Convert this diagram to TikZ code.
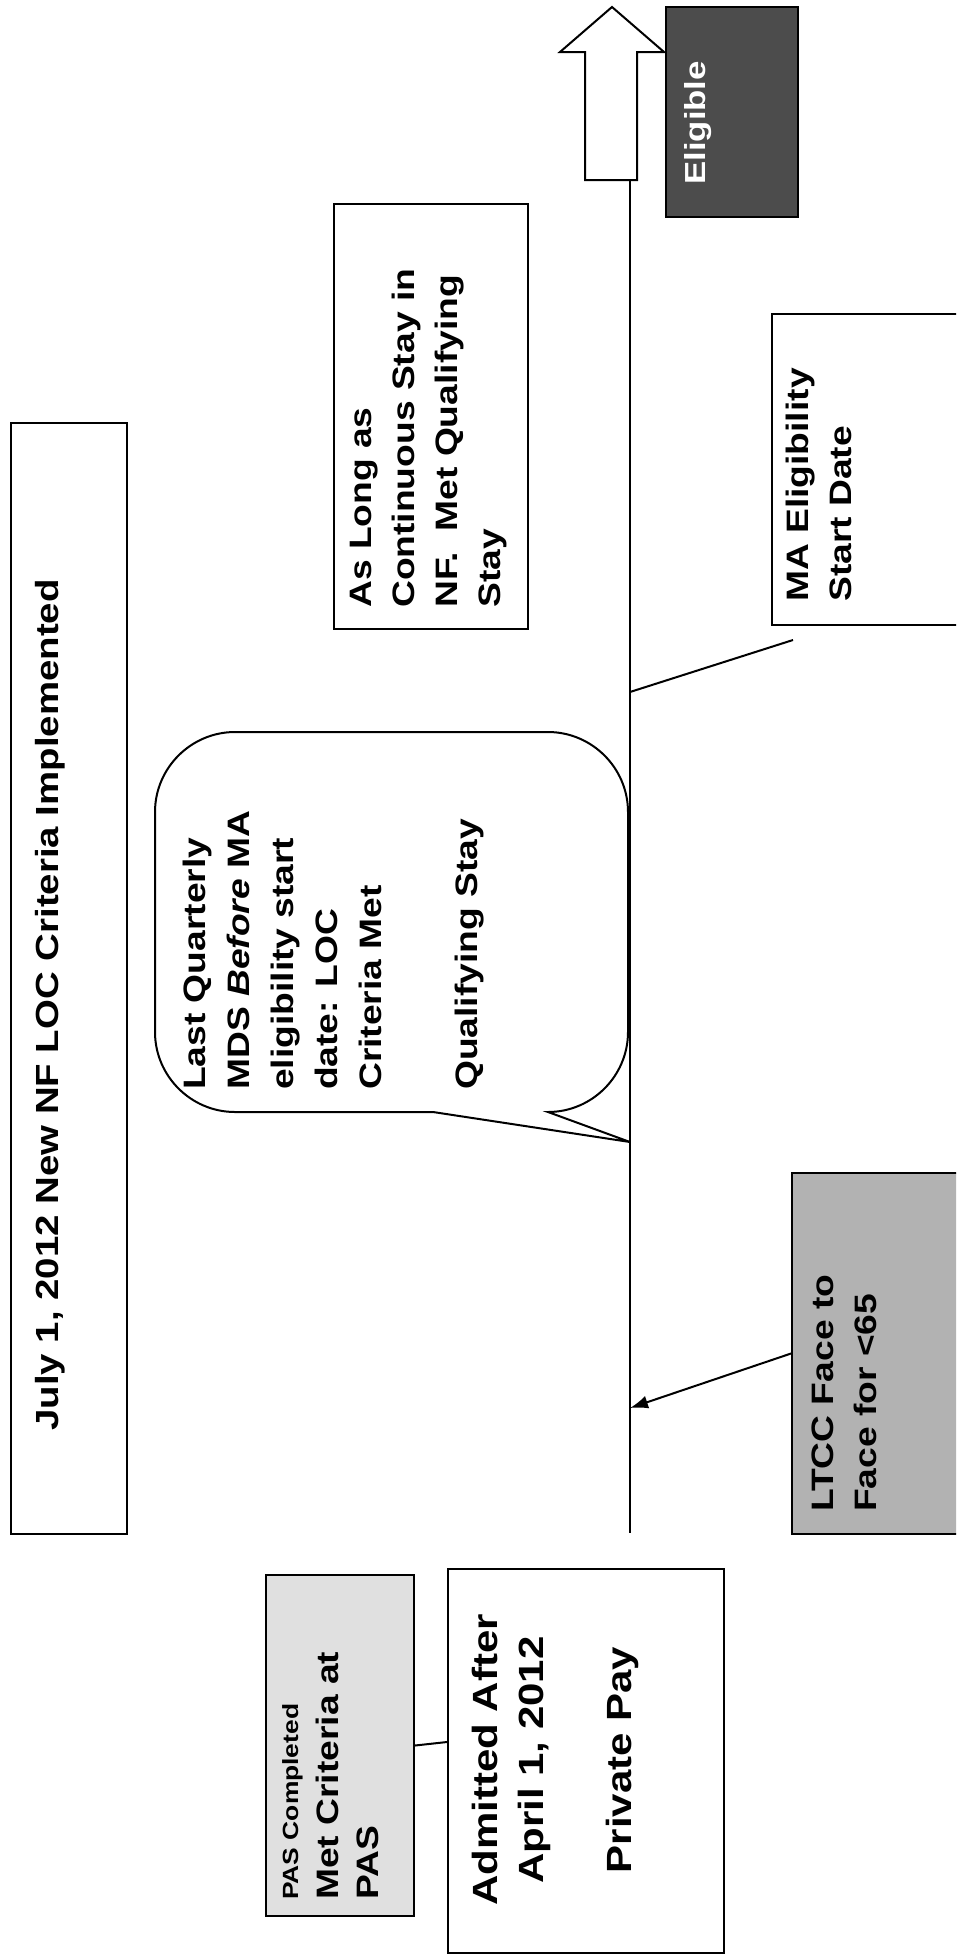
\documentclass[tikz,border=0pt]{standalone}
\usepackage{fontspec}
\setmainfont{Liberation Sans}[FakeStretch=1.2]
\usetikzlibrary{arrows.meta}

\begin{document}
\begin{tikzpicture}[x=1pt, y=-1pt,
        box/.style={draw, line width=2pt, inner sep=0pt, anchor=north west},
        txt/.style={rotate=90, anchor=north west, inner sep=0pt, align=left,
                    font=\fontsize{31}{43}\selectfont\bfseries},
        link/.style={line width=2pt}
    ]
    \useasboundingbox (0,0) rectangle (956,1954);
    \clip (0,0) rectangle (956,1954);

    % Boxes
    \node[box, minimum width=116, minimum height=1111] (title) at (10,422) {};
    \node[box, minimum width=194, minimum height=425] (aslong) at (333,203) {};
    \node[box, fill=black!70, minimum width=132, minimum height=210] (elig) at (665,6) {};
    \node[box, minimum width=220, minimum height=311] (ma) at (771,313) {};
    \node[box, fill=black!30, minimum width=200, minimum height=361] (ltcc) at (791,1172) {};
    \node[box, fill=black!12, minimum width=148, minimum height=341] (pas) at (265,1574) {};
    \node[box, minimum width=276, minimum height=384] (admit) at (447,1568) {};

    % Timeline and block arrow
    \coordinate (tstart) at (630,180);
    \coordinate (tend) at (630,1533);
    \coordinate (tma) at (630,692);
    \coordinate (tbub) at (630,1142);
    \coordinate (tltcc) at (630,1408);
    \draw[line width=2pt, fill=white] (585,180) -- (585,52) -- (560,52) -- (612,7)
        -- (664,52) -- (637,52) -- (637,180) -- cycle;
    \draw[line width=2.6pt] (tstart) -- (tend);

    % Speech bubble
    \draw[line width=2pt] (tbub) -- (433,1112) -- (235,1112)
        .. controls (191,1112) and (155,1076) .. (155,1032)
        -- (155,812) .. controls (155,768) and (191,732) .. (235,732) -- (548,732)
        .. controls (592,732) and (628,768) .. (628,812) -- (628,1032)
        .. controls (628,1076) and (592,1112) .. (548,1112) -- cycle;

    % Connectors
    \coordinate (maend) at (793,640);
    \coordinate (admitin) at (447,1742);
    \draw[link] (maend) -- (tma);
    \draw[link, -{Latex[length=18pt,width=13pt]}] (ltcc.west) -- (tltcc);
    \draw[link] (pas.east) -- (admitin);

    % Texts
    \node[rotate=90, inner sep=0pt, font=\fontsize{32}{38}\selectfont\bfseries]
        (titletxt) at (50,1005) {July 1, 2012 New NF LOC Criteria Implemented};
    \node[txt] (aslongtxt) at (350,608) {As Long as\\Continuous Stay in\\NF.\ \ Met Qualifying\\Stay};
    \node[txt, text=white, font=\fontsize{29}{35}\selectfont\bfseries] (eligtxt) at (684,185) {Eligible};
    \node[txt] (matxt) at (786,602) {MA Eligibility\\Start Date};
    \node[txt] (ltcctxt) at (812,1512) {LTCC Face to\\Face for <65};
    \node[txt, font=\fontsize{31}{44}\selectfont\bfseries] (bubtxt) at (183,1090)
        {Last Quarterly\\MDS \textit{Before} MA\\eligibility start\\date: LOC\\Criteria Met\\[52pt]Qualifying Stay};
    \node[txt, font=\fontsize{31}{40}\selectfont\bfseries] (pastxt) at (282,1900)
        {{\fontsize{22}{26}\selectfont PAS Completed}\\Met Criteria at\\PAS};
    \node[rotate=90, inner sep=0pt, align=center, font=\fontsize{35}{46}\selectfont\bfseries]
        (admittxt) at (555,1760) {Admitted After\\April 1, 2012\\[42pt]Private Pay};
\end{tikzpicture}
\end{document}
